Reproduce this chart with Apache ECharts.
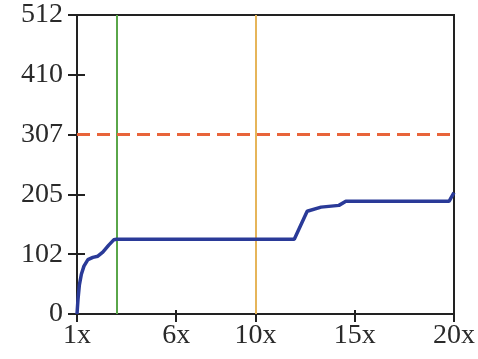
<!DOCTYPE html>
<html>
<head>
<meta charset="utf-8">
<script src="https://cdn.jsdelivr.net/npm/echarts@6/dist/echarts.min.js"></script>
<style>html,body{margin:0;padding:0;background:#fff}#c{width:478px;height:359px}</style>
</head>
<body>
<div id="c"></div>
<script>
var xTicks = [1, 6, 10, 15, 20];
var yMax = 512;
var yInterval = 102.4;
var curveX = [1, 1.05, 1.12, 1.22, 1.35, 1.55, 1.8, 2.05, 2.3, 2.6, 2.85, 3, 11.95, 12.6, 13.3, 14.2, 14.55, 19.75, 20];
var curveY = [0, 25, 50, 68, 82, 93, 97, 99, 106, 118, 127, 128, 128, 176, 183, 186, 193, 193, 208];
var greenLineX = 3;
var orangeLineX = 10;
var thresholdY = 307.2;

var data = curveX.map(function (x, i) { return [x, curveY[i]]; });
var fontFam = '"Liberation Serif", "Times New Roman", serif';
var axisCol = '#222';

var chart = echarts.init(document.getElementById('c'));
chart.setOption({
  animation: false,
  grid: { left: 77, right: 20, top: 15, bottom: 45, show: true, borderColor: axisCol, borderWidth: 2, backgroundColor: 'transparent' },
  xAxis: [{
    type: 'value', min: 1, max: 20, position: 'bottom',
    axisLine: { show: true, lineStyle: { color: axisCol, width: 2 } },
    axisTick: { show: true, length: 8, lineStyle: { color: axisCol, width: 2 }, customValues: xTicks },
    axisLabel: { color: '#2a2a2a', fontSize: 28, fontFamily: fontFam, margin: 8, customValues: xTicks, formatter: function (v) { return v + 'x'; } },
    splitLine: { show: false }
  }, {
    type: 'value', min: 1, max: 20, position: 'bottom',
    axisLine: { show: false },
    axisTick: { show: true, inside: true, length: 4, lineStyle: { color: axisCol, width: 2 }, customValues: xTicks },
    axisLabel: { show: false },
    splitLine: { show: false }
  }],
  yAxis: [{
    type: 'value', min: 0, max: yMax, interval: yInterval,
    axisLine: { show: true, lineStyle: { color: axisCol, width: 2 } },
    axisTick: { show: true, length: 9, lineStyle: { color: axisCol, width: 2 } },
    axisLabel: { color: '#2a2a2a', fontSize: 28, fontFamily: fontFam, margin: 14, formatter: function (v) { return Math.round(v); } },
    splitLine: { show: false }
  }, {
    type: 'value', min: 0, max: yMax, interval: yInterval, position: 'left',
    axisLine: { show: false },
    axisTick: { show: true, inside: true, length: 8, lineStyle: { color: axisCol, width: 2 } },
    axisLabel: { show: false },
    splitLine: { show: false }
  }],
  series: [{
    type: 'line', data: data, showSymbol: false, symbol: 'none', smooth: false,
    lineStyle: { color: '#2a3a98', width: 3.5 },
    z: 5,
    markLine: {
      silent: true, symbol: 'none', label: { show: false },
      data: [
        { xAxis: greenLineX, lineStyle: { color: '#5aa64a', width: 2, type: 'solid' } },
        { xAxis: orangeLineX, lineStyle: { color: '#e6b55a', width: 2, type: 'solid' } },
        { yAxis: thresholdY, lineStyle: { color: '#e8643a', width: 3, type: [13, 7] } }
      ]
    }
  }]
});
</script>
</body>
</html>
